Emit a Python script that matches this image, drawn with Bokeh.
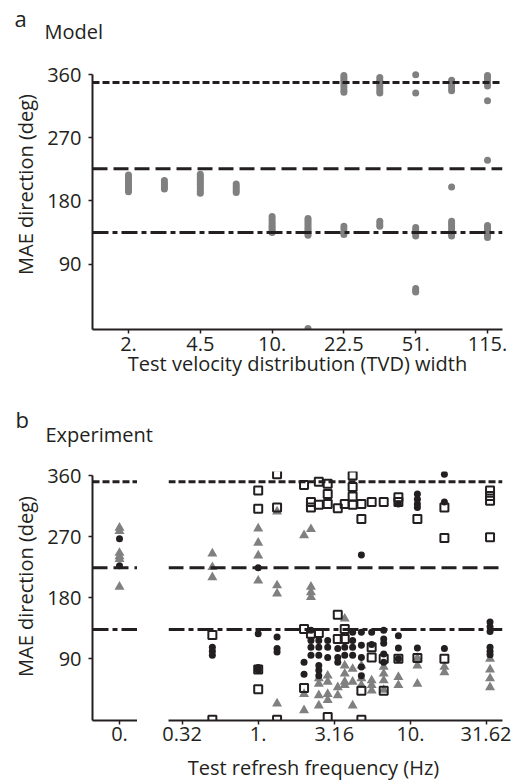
import math
from bokeh.plotting import figure
from bokeh.layouts import column, row
from bokeh.models import (ColumnDataSource, Span, Label, FixedTicker,
                          CustomJSTickFormatter, Range1d)
from bokeh.embed import file_html
from bokeh.resources import INLINE

FONT = "Open Sans"

# ---------------- data: panel a (model) ----------------
tvd_widths = [2, 3, 4.5, 6.75, 10.125, 15.1875, 22.78125, 34.171875,
              51.2578125, 76.88671875, 115.330078125]
model_mae = [
    [193, 196, 199, 202, 205, 208, 211, 214, 217],
    [197, 200, 203, 206, 209],
    [191, 194, 197, 200, 203, 206, 209, 212, 215, 218],
    [192, 195, 198, 201, 204],
    [135, 138, 141, 144, 147, 150, 154, 158],
    [-2, 131, 134, 137, 140, 143, 146, 149, 152, 155],
    [132, 135, 140, 144, 335, 338, 342, 346, 350, 353, 356, 359],
    [144, 147, 151, 334, 337, 341, 345, 349, 352, 356],
    [50, 52, 55, 130, 133, 136, 139, 142, 334, 360],
    [130, 133, 137, 141, 145, 148, 151, 200, 337, 341, 345, 349, 352],
    [128, 131, 135, 139, 142, 145, 238, 323, 344, 348, 352, 356, 359],
]
tvd_ticks = [2, 4.5, 10.125, 22.78125, 51.2578125, 115.330078125]
tvd_tick_labels = ["2.", "4.5", "10.", "22.5", "51.", "115."]
dir_ticks = [90, 180, 270, 360]
model_ref_dirs = [349, 226, 135]

# ---------------- data: panel b (experiment) ----------------
static_circles = [267, 227]
static_triangles = [283, 278, 246, 241, 237, 196]

refresh_hz = [0.5, 1, 1.33, 2, 2.22, 2.5, 2.86, 3.33, 3.7, 4.17, 4.76,
              5.56, 6.67, 8.33, 11.1, 16.7, 33.3]
exp_circles = [
    [107, 101, 95],
    [224, 127, 77, 73],
    [122, 105, 100],
    [85, 67],
    [132, 117, 107, 95],
    [117, 107, 95, 80, 73, 65],
    [117, 107, 92],
    [105, 92, 85],
    [107, 95],
    [129, 117, 107, 95],
    [243, 129, 110, 92, 78, 65],
    [129, 111],
    [132, 119, 113, 97, 85],
    [318, 124, 106, 90],
    [333, 325, 318, 313, 106],
    [362, 321, 105],
    [144, 137, 130, 107, 101, 96],
]
exp_triangles = [
    [245, 225, 210],
    [282, 261, 242, 205],
    [307, 198, 186, 24],
    [272, 38, 14],
    [281, 196, 188, 181],
    [61, 53, 36, 21],
    [65, 56, 38, 29],
    [48, 36],
    [149, 80, 68, 56, 51],
    [75, 56, 21],
    [80, 61, 51],
    [58, 51, 43],
    [78, 68, 58, 44],
    [63, 51],
    [91, 80, 53],
    [78, 70],
    [90, 74, 61, 48],
]
exp_squares = [
    [125, 0],
    [338, 311, 74, 45],
    [362, 313, 0],
    [346, 134, 47],
    [321, 313, 127],
    [351, 317, 128],
    [348, 333, 318, 4],
    [312, 155, 119],
    [318, 134, 119],
    [360, 343, 329, 317],
    [318, 296, 43, 0],
    [321, 107, 92],
    [321, 90, 43],
    [328, 321, 90],
    [296, 91],
    [313, 268, 90],
    [338, 330, 323, 269],
]
freq_ticks = [0.316228, 1, 3.16228, 10, 31.6228]
freq_tick_labels = ["0.32", "1.", "3.16", "10.", "31.62"]
exp_ref_dirs = [351, 224, 133]

# ---------------- styles ----------------
REF_DASHES = ["7 3", "15 6", "16 4 5 4"]
BLACK = "#231f20"
GRAY = "#808080"
FS = "20px"


def flatten(xs, groups):
    xx, yy = [], []
    for x, g in zip(xs, groups):
        for v in g:
            xx.append(x)
            yy.append(v)
    return xx, yy


def base_fig(width, height, **kw):
    p = figure(width=width, height=height, output_backend="svg",
               toolbar_location=None, **kw)
    p.outline_line_color = None
    p.background_fill_color = "white"
    p.border_fill_color = "white"
    p.title.visible = False
    return p


def style_axes(p):
    p.xgrid.grid_line_color = None
    p.ygrid.grid_line_color = None
    for ax in p.axis:
        ax.axis_line_width = 2
        ax.axis_line_color = BLACK
        ax.major_tick_line_color = BLACK
        ax.major_tick_line_width = 1.5
        ax.major_tick_out = 4
        ax.major_tick_in = 0
        ax.minor_tick_line_color = None
        ax.major_label_text_font = FONT
        ax.major_label_text_font_size = FS
        ax.major_label_text_color = BLACK


def text_fig(width, height, top=0, bottom=0):
    p = base_fig(width, height, x_range=Range1d(0, 1), y_range=Range1d(0, 1),
                 x_axis_location=None, y_axis_location=None,
                 min_border=0, min_border_left=0, min_border_right=0,
                 min_border_top=top, min_border_bottom=bottom)
    p.xgrid.visible = False
    p.ygrid.visible = False
    return p


def tick_formatter(ticks, labels):
    return CustomJSTickFormatter(
        args=dict(t=ticks, l=labels),
        code="""
        for (let i = 0; i < t.length; i++) {
            if (Math.abs(t[i] - tick) <= 1e-6 * Math.max(1, Math.abs(t[i]))) return l[i];
        }
        return '';
        """)


def add_label(p, x, y, text, size=FS, angle=0.0, align="left"):
    # x, y: screen px from the frame's left / bottom edge; y marks the text middle
    p.add_layout(Label(x=x, y=y, x_units="screen", y_units="screen", text=text,
                       text_font=FONT, text_font_size=size, text_color=BLACK,
                       text_align=align, text_baseline="middle", angle=angle))


def add_refs(p, dirs):
    for d, dash in zip(dirs, REF_DASHES):
        p.add_layout(Span(location=d, dimension="width", line_color=BLACK,
                          line_width=3, line_dash=dash))


# ---------------- header of panel a (page y 0-50) ----------------
head_a = text_fig(511, 50)
add_label(head_a, 14, 50 - 17, "a", size="22px")
add_label(head_a, 44, 50 - 31, "Model")

# ---------------- panel a (page y 50-389, frame 70-329; 360 deg at y=74) ----------------
ylab_a = text_fig(40, 339, top=20, bottom=60)
add_label(ylab_a, 25, 329 - 184, "MAE direction (deg)", angle=math.pi / 2, align="center")

pa = base_fig(471, 339, x_axis_type="log",
              x_range=Range1d(1.332, 136.6), y_range=Range1d(-3.3, 366),
              min_border_left=52, min_border_right=9, min_border_top=20,
              min_border_bottom=60)
style_axes(pa)
pa.xaxis.ticker = FixedTicker(ticks=tvd_ticks, minor_ticks=[])
pa.xaxis.formatter = tick_formatter(tvd_ticks, tvd_tick_labels)
pa.xaxis.major_label_standoff = 3
pa.xaxis.axis_label = "Test velocity distribution (TVD) width"
pa.xaxis.axis_label_text_font = FONT
pa.xaxis.axis_label_text_font_size = FS
pa.xaxis.axis_label_text_font_style = "normal"
pa.xaxis.axis_label_text_color = BLACK
pa.xaxis.axis_label_standoff = -4
pa.yaxis.ticker = FixedTicker(ticks=dir_ticks, minor_ticks=[])
pa.yaxis.major_label_standoff = 7
pa.yaxis.bounds = (-3.3, 360)
add_refs(pa, model_ref_dirs)
ax_, ay_ = flatten(tvd_widths, model_mae)
pa.scatter(x="x", y="y", source=ColumnDataSource(dict(x=ax_, y=ay_)),
           marker="circle", size=7, fill_color=GRAY, line_color=None)

# ---------------- header of panel b (page y 389-455) ----------------
head_b = text_fig(511, 66)
add_label(head_b, 15, 455 - 418, "b", size="22px")
add_label(head_b, 45, 455 - 434, "Experiment")

# ---------------- panel b (page y 455-753, frame 471-720; 360 deg at y=475) ----------------
ylab_b = text_fig(40, 298, top=16, bottom=33)
add_label(ylab_b, 25, 720 - 586, "MAE direction (deg)", angle=math.pi / 2, align="center")

pb0 = base_fig(97, 298, x_range=Range1d(-0.6, 0.4), y_range=Range1d(-1, 366),
               min_border_left=52, min_border_right=0,
               min_border_top=16, min_border_bottom=33)
style_axes(pb0)
pb0.xaxis.ticker = FixedTicker(ticks=[0], minor_ticks=[])
pb0.xaxis.formatter = tick_formatter([0], ["0."])
pb0.xaxis.major_label_standoff = 2
pb0.yaxis.ticker = FixedTicker(ticks=dir_ticks, minor_ticks=[])
pb0.yaxis.major_label_standoff = 7
pb0.yaxis.bounds = (-1, 360)
add_refs(pb0, exp_ref_dirs)
pb0.scatter(x=[0] * len(static_triangles), y=static_triangles, marker="triangle",
            size=10, fill_color=GRAY, line_color=None)
pb0.scatter(x=[0] * len(static_circles), y=static_circles, marker="circle",
            size=7, fill_color=BLACK, line_color=None)

pb1 = base_fig(374, 298, x_axis_type="log",
               x_range=Range1d(0.2576, 40.2), y_range=Range1d(-1, 366),
               y_axis_location=None,
               min_border_left=31, min_border_right=9,
               min_border_top=16, min_border_bottom=33)
style_axes(pb1)
pb1.xaxis.ticker = FixedTicker(ticks=freq_ticks, minor_ticks=[])
pb1.xaxis.formatter = tick_formatter(freq_ticks, freq_tick_labels)
pb1.xaxis.major_label_standoff = 2
add_refs(pb1, exp_ref_dirs)
tx, ty = flatten(refresh_hz, exp_triangles)
cx, cy = flatten(refresh_hz, exp_circles)
sx, sy = flatten(refresh_hz, exp_squares)
pb1.scatter(x=tx, y=ty, marker="triangle", size=10, fill_color=GRAY, line_color=None)
pb1.scatter(x=cx, y=cy, marker="circle", size=7, fill_color=BLACK, line_color=None)
pb1.scatter(x=sx, y=sy, marker="square", size=8, fill_color=None,
            line_color=BLACK, line_width=2)

# ---------------- x label of panel b (page y 753-783) ----------------
foot_b = text_fig(511, 30)
add_label(foot_b, 313, 783 - 767, "Test refresh frequency (Hz)", align="center")

layout = column(head_a, row(ylab_a, pa), head_b, row(ylab_b, pb0, pb1), foot_b)
open("out.html", "w").write(file_html(layout, INLINE))
